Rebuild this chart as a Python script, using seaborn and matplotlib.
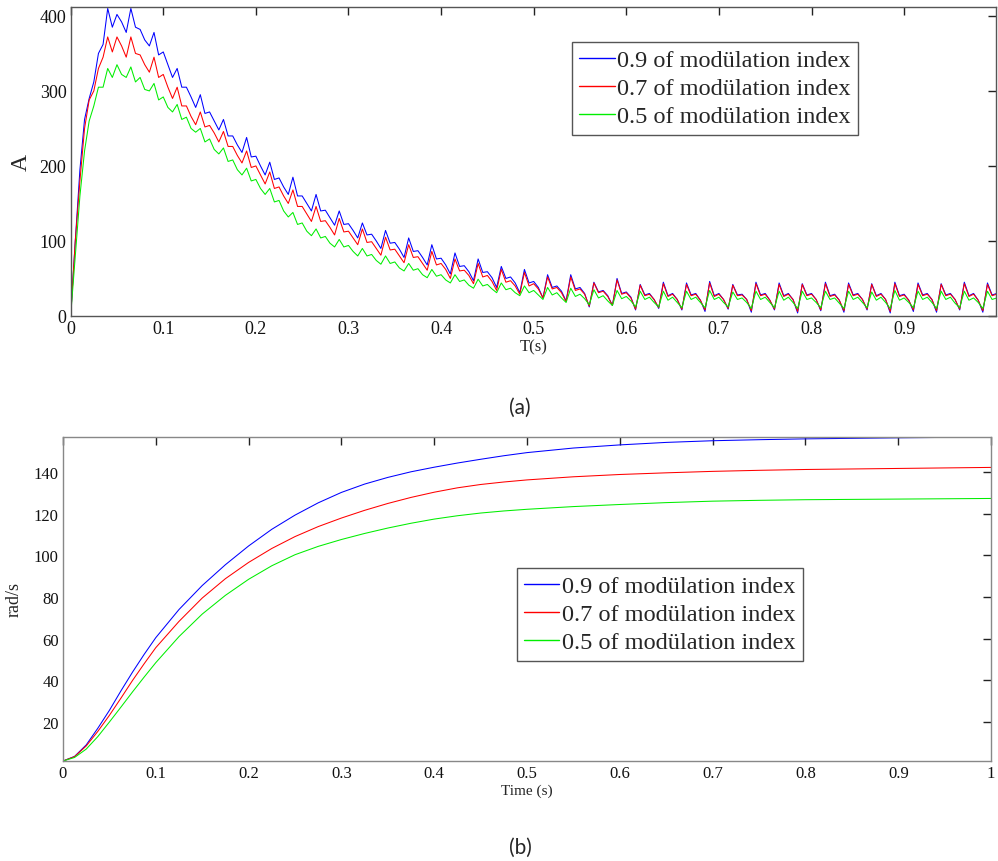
import numpy as np
import pandas as pd
import matplotlib
matplotlib.use("Agg")
import matplotlib.pyplot as plt
import seaborn as sns

# ---------------- data ----------------
labels = ["0.9 of modülation index", "0.7 of modülation index", "0.5 of modülation index"]
colors = ["#0000ff", "#ff0000", "#00ee00"]

# (a) current, sampled every 5 ms from 0 to 1 s
t_cur = np.round(np.arange(201) * 0.005, 4)
cur_09 = [0, 100, 195, 262, 290, 312, 350, 362, 410, 385,
          402, 392, 378, 410, 385, 382, 368, 360, 378, 348,
          352, 335, 318, 330, 305, 305, 292, 278, 295, 270,
          272, 260, 248, 262, 240, 240, 228, 218, 238, 212,
          213, 200, 188, 205, 182, 184, 172, 162, 185, 160,
          160, 150, 140, 162, 140, 141, 131, 121, 140, 122,
          123, 114, 104, 124, 108, 109, 100, 90, 114, 97,
          98, 89, 78, 104, 86, 87, 78, 68, 95, 76,
          77, 68, 56, 84, 66, 67, 59, 47, 76, 58,
          59, 51, 38, 66, 50, 52, 44, 31, 62, 44,
          46, 38, 24, 55, 38, 40, 33, 20, 55, 36,
          38, 30, 12, 45, 32, 34, 27, 14, 50, 30,
          32, 25, 8, 42, 28, 30, 22, 10, 45, 27,
          30, 22, 8, 44, 28, 30, 21, 6, 46, 27,
          30, 22, 9, 42, 28, 29, 22, 5, 45, 28,
          30, 21, 8, 44, 27, 30, 22, 4, 43, 28,
          30, 22, 7, 45, 27, 29, 21, 5, 44, 28,
          30, 22, 8, 43, 27, 30, 22, 4, 45, 27,
          29, 21, 6, 44, 28, 30, 22, 5, 43, 28,
          30, 22, 8, 45, 27, 30, 21, 5, 44, 28,
          30]
cur_07 = [0, 100, 180, 250, 288, 300, 330, 345, 372, 352,
          372, 360, 345, 372, 350, 348, 335, 325, 345, 318,
          322, 305, 290, 305, 280, 280, 266, 255, 272, 252,
          254, 244, 232, 246, 226, 226, 214, 204, 220, 198,
          200, 188, 176, 192, 170, 172, 160, 150, 168, 146,
          146, 136, 126, 146, 126, 127, 118, 108, 130, 112,
          113, 104, 95, 116, 98, 99, 90, 81, 105, 88,
          89, 80, 71, 95, 78, 79, 70, 61, 86, 68,
          70, 62, 50, 76, 60, 61, 54, 43, 70, 52,
          54, 46, 34, 62, 45, 47, 40, 29, 58, 40,
          43, 36, 24, 52, 36, 38, 31, 19, 52, 34,
          36, 29, 13, 44, 31, 33, 26, 14, 48, 29,
          31, 24, 9, 41, 27, 29, 22, 11, 43, 26,
          29, 22, 9, 42, 27, 29, 21, 8, 44, 26,
          29, 22, 10, 41, 27, 28, 22, 7, 43, 27,
          29, 21, 9, 42, 26, 29, 22, 6, 42, 27,
          29, 22, 8, 43, 26, 28, 21, 7, 42, 27,
          29, 22, 9, 42, 26, 29, 22, 6, 43, 26,
          28, 21, 8, 42, 27, 29, 22, 7, 42, 27,
          29, 22, 9, 43, 26, 29, 21, 7, 42, 27,
          29]
cur_05 = [0, 80, 160, 220, 260, 280, 305, 305, 330, 318,
          335, 322, 318, 332, 312, 318, 302, 300, 310, 288,
          292, 278, 272, 282, 262, 265, 250, 245, 250, 232,
          236, 222, 216, 224, 206, 208, 195, 188, 197, 180,
          182, 170, 162, 170, 152, 154, 140, 132, 138, 122,
          124, 113, 107, 116, 104, 106, 97, 92, 102, 92,
          94, 86, 80, 90, 80, 82, 74, 69, 80, 70,
          72, 64, 60, 70, 61, 63, 55, 51, 62, 53,
          55, 48, 44, 55, 46, 48, 41, 37, 49, 40,
          42, 36, 31, 44, 35, 37, 31, 27, 40, 31,
          34, 28, 22, 38, 28, 31, 24, 18, 37, 26,
          29, 23, 15, 35, 24, 27, 20, 14, 34, 23,
          26, 20, 12, 33, 22, 25, 18, 12, 33, 21,
          25, 18, 11, 33, 22, 25, 18, 11, 34, 22,
          25, 18, 12, 32, 22, 24, 18, 10, 33, 22,
          25, 18, 11, 33, 21, 25, 18, 10, 33, 22,
          24, 18, 11, 33, 22, 24, 17, 10, 33, 22,
          25, 18, 11, 32, 21, 25, 18, 10, 34, 21,
          24, 18, 11, 33, 22, 25, 18, 10, 33, 22,
          25, 17, 11, 33, 21, 24, 18, 10, 33, 22,
          24]

# (b) speed
t_spd = [0, 0.0125, 0.025, 0.0375, 0.05, 0.0625, 0.075, 0.0875, 0.1, 0.125,
         0.15, 0.175, 0.2, 0.225, 0.25, 0.275, 0.3, 0.325, 0.35, 0.375,
         0.4, 0.425, 0.45, 0.475, 0.5, 0.55, 0.6, 0.65, 0.7, 0.75,
         0.8, 0.9, 1.0]
spd_09 = [1.3, 3.5, 9, 17, 25.6, 35, 44, 52.5, 60.5, 74,
          85.5, 95.5, 104.5, 112.5, 119.3, 125.2, 130.2, 134.2, 137.4, 140.1,
          142.3, 144.3, 146.1, 147.8, 149.3, 151.5, 153, 154.2, 155, 155.5,
          155.9, 156.4, 156.8]
spd_07 = [1.3, 3.4, 8.5, 15.5, 23.2, 31.5, 40, 48, 55.7, 68.3,
          79.5, 88.8, 96.6, 103.3, 109, 113.8, 117.9, 121.6, 124.9, 127.8,
          130.3, 132.4, 134, 135.2, 136.2, 137.7, 138.8, 139.6, 140.3, 140.8,
          141.2, 141.7, 142.2]
spd_05 = [1.3, 3.0, 7.0, 13.0, 20.0, 27.2, 34.5, 41.6, 48.5, 61,
          71.8, 80.8, 88.5, 95, 100.3, 104.3, 107.6, 110.5, 113.1, 115.4,
          117.4, 119, 120.3, 121.3, 122.1, 123.4, 124.4, 125.3, 126, 126.4,
          126.7, 127, 127.3]

top_xticks = [0, 0.1, 0.2, 0.3, 0.4, 0.5, 0.6, 0.7, 0.8, 0.9]
top_yticks = [0, 100, 200, 300, 400]
bot_xticks = [0, 0.1, 0.2, 0.3, 0.4, 0.5, 0.6, 0.7, 0.8, 0.9, 1]
bot_yticks = [20, 40, 60, 80, 100, 120, 140]

# ---------------- tables ----------------
df_cur = pd.concat([
    pd.DataFrame({"t": t_cur, "v": v, "series": lab})
    for v, lab in zip([cur_09, cur_07, cur_05], labels)
], ignore_index=True)
df_spd = pd.concat([
    pd.DataFrame({"t": t_spd, "v": v, "series": lab})
    for v, lab in zip([spd_09, spd_07, spd_05], labels)
], ignore_index=True)

# ---------------- style ----------------
sns.set_theme(style="white")
plt.rcParams["font.family"] = ["Liberation Serif", "DejaVu Serif"]

fig = plt.figure(figsize=(9.98, 8.62), dpi=100)
ax1 = fig.add_axes([0.0708, 0.6323, 0.927, 0.3585])
ax2 = fig.add_axes([0.0631, 0.116, 0.930, 0.3759])

pal = dict(zip(labels, colors))
sns.lineplot(data=df_cur, x="t", y="v", hue="series", hue_order=labels,
             palette=pal, estimator=None, linewidth=0.75, ax=ax1)
sns.lineplot(data=df_spd, x="t", y="v", hue="series", hue_order=labels,
             palette=pal, estimator=None, linewidth=0.75, ax=ax2)

def style_axes(ax, spine_col):
    for s in ax.spines.values():
        s.set_visible(True)
        s.set_color(spine_col)
        s.set_linewidth(1.0)
    ax.tick_params(direction="in", top=True, right=True, length=6,
                   width=1.0, color="#222222", labelcolor="#111111")
    ax.grid(False)
    ax.set_facecolor("white")

style_axes(ax1, "#555555")
ax1.set_xlim(0, 0.999)
ax1.set_ylim(0, 412)
ax1.set_xticks(top_xticks)
ax1.set_xticklabels([f"{v:g}" for v in top_xticks])
ax1.set_yticks(top_yticks)
ax1.tick_params(labelsize=13, pad=3)
ax1.set_xlabel("T(s)", fontsize=12, labelpad=1)
ax1.set_ylabel("A", fontsize=17, labelpad=6)

style_axes(ax2, "#888888")
ax2.set_xlim(0, 1)
ax2.set_ylim(1.3, 156.8)
ax2.set_xticks(bot_xticks)
ax2.set_xticklabels([f"{v:g}" for v in bot_xticks])
ax2.set_yticks(bot_yticks)
ax2.tick_params(labelsize=12, pad=3)
ax2.set_xlabel("Time (s)", fontsize=11, labelpad=2)
ax2.set_ylabel("rad/s", fontsize=13, labelpad=8)

leg_kw = dict(loc="upper left", frameon=True, fancybox=False, shadow=False,
              fontsize=17.5, handlelength=1.45, handletextpad=0.1,
              borderpad=0.3, labelspacing=0.25, borderaxespad=0.0)
h1, l1 = ax1.get_legend_handles_labels()
lg1 = ax1.legend(h1, l1, bbox_to_anchor=(0.542, 0.887), **leg_kw)
h2, l2 = ax2.get_legend_handles_labels()
lg2 = ax2.legend(h2, l2, bbox_to_anchor=(0.489, 0.596), **leg_kw)
for lg in (lg1, lg2):
    fr = lg.get_frame()
    fr.set_edgecolor("#555555")
    fr.set_linewidth(1.0)
    fr.set_alpha(1)
    for ln in lg.get_lines():
        ln.set_linewidth(1.0)

fig.text(520 / 998, 1 - 408 / 862, "(a)", ha="center", va="center",
         fontsize=15, family=["Lato", "DejaVu Sans"])
fig.text(520 / 998, 1 - 848 / 862, "(b)", ha="center", va="center",
         fontsize=15, family=["Lato", "DejaVu Sans"])

fig.savefig("out.png", dpi=100, facecolor="white")
